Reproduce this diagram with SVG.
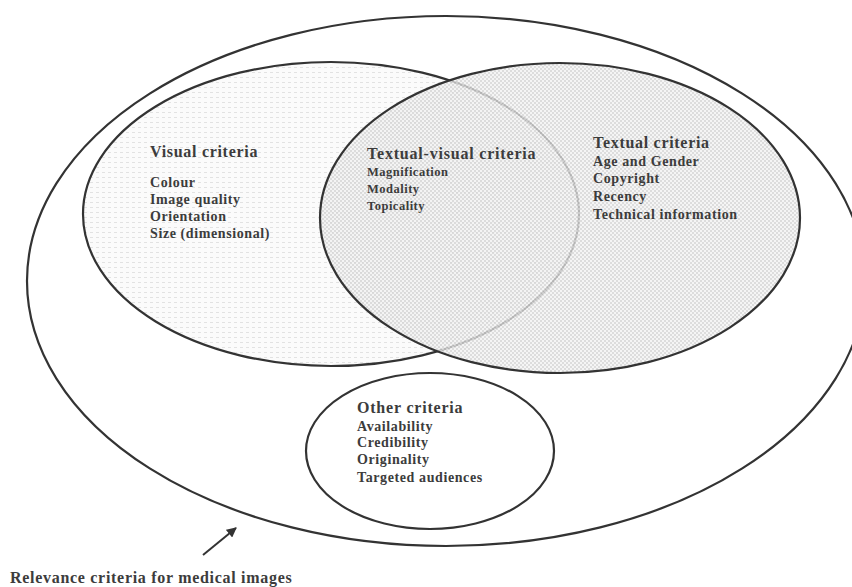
<svg xmlns="http://www.w3.org/2000/svg" width="852" height="587" viewBox="0 0 852 587">
<style>
.ring{fill:none;stroke:#333;stroke-width:2.2}
.t{font-family:"Liberation Serif","Times New Roman",serif;font-weight:bold;fill:#3c3c3c}
.h{font-size:16px;letter-spacing:0.7px}
.i{font-size:14px;letter-spacing:0.6px}
.s{font-size:12.5px;letter-spacing:0.5px}
</style>
<defs>
<pattern id="pv" width="6" height="5" patternUnits="userSpaceOnUse">
<rect width="6" height="5" fill="#fbfbfb"/>
<rect x="0" y="2" width="3" height="1" fill="#e2e2e2"/>
</pattern>
<pattern id="pt" width="4" height="4" patternUnits="userSpaceOnUse">
<rect width="4" height="4" fill="#f2f2f2"/>
<rect x="0" y="0" width="2" height="2" fill="#d4d4d4"/>
<rect x="2" y="2" width="2" height="2" fill="#d4d4d4"/>
</pattern>
<marker id="ah" viewBox="0 0 10 10" refX="9" refY="5" markerWidth="5" markerHeight="5" orient="auto">
<path d="M0,0 L10,5 L0,10 z" fill="#333"/>
</marker>
</defs>
<rect width="852" height="587" fill="#ffffff"/>
<g id="outer">
<ellipse class="ring" cx="446" cy="281" rx="419" ry="265"/>
</g>
<g id="visual">
<ellipse cx="331" cy="214" rx="248" ry="152" fill="url(#pv)" stroke="#333" stroke-width="2.2"/>
</g>
<g id="textual">
<ellipse cx="560" cy="218" rx="240" ry="155" fill="url(#pt)" fill-opacity="0.8"/>
<ellipse class="ring" cx="560" cy="218" rx="240" ry="155"/>
</g>
<g id="other">
<ellipse class="ring" cx="430" cy="451" rx="124" ry="78"/>
</g>
<g id="visual-text">
<text class="t h" x="150" y="157">Visual criteria</text>
<text class="t i" x="150" y="187">Colour</text>
<text class="t i" x="150" y="204">Image quality</text>
<text class="t i" x="150" y="221">Orientation</text>
<text class="t i" x="150" y="238">Size (dimensional)</text>
</g>
<g id="textual-visual-text">
<text class="t h" x="367" y="159" style="letter-spacing:0.8px">Textual-visual criteria</text>
<text class="t s" x="367" y="176">Magnification</text>
<text class="t s" x="367" y="193">Modality</text>
<text class="t s" x="367" y="210">Topicality</text>
</g>
<g id="textual-text">
<text class="t h" x="593" y="148">Textual criteria</text>
<text class="t i" x="593" y="166">Age and Gender</text>
<text class="t i" x="593" y="183">Copyright</text>
<text class="t i" x="593" y="201">Recency</text>
<text class="t i" x="593" y="219">Technical information</text>
</g>
<g id="other-text">
<text class="t h" x="357" y="413" style="letter-spacing:0.8px">Other criteria</text>
<text class="t i" x="357" y="431">Availability</text>
<text class="t i" x="357" y="447">Credibility</text>
<text class="t i" x="357" y="464">Originality</text>
<text class="t i" x="357" y="482">Targeted audiences</text>
</g>
<g id="connectors">
<line x1="203" y1="555" x2="236" y2="528" stroke="#333" stroke-width="2" marker-end="url(#ah)"/>
</g>
<g id="label">
<text class="t h" x="10" y="583">Relevance criteria for medical images</text>
</g>
</svg>
